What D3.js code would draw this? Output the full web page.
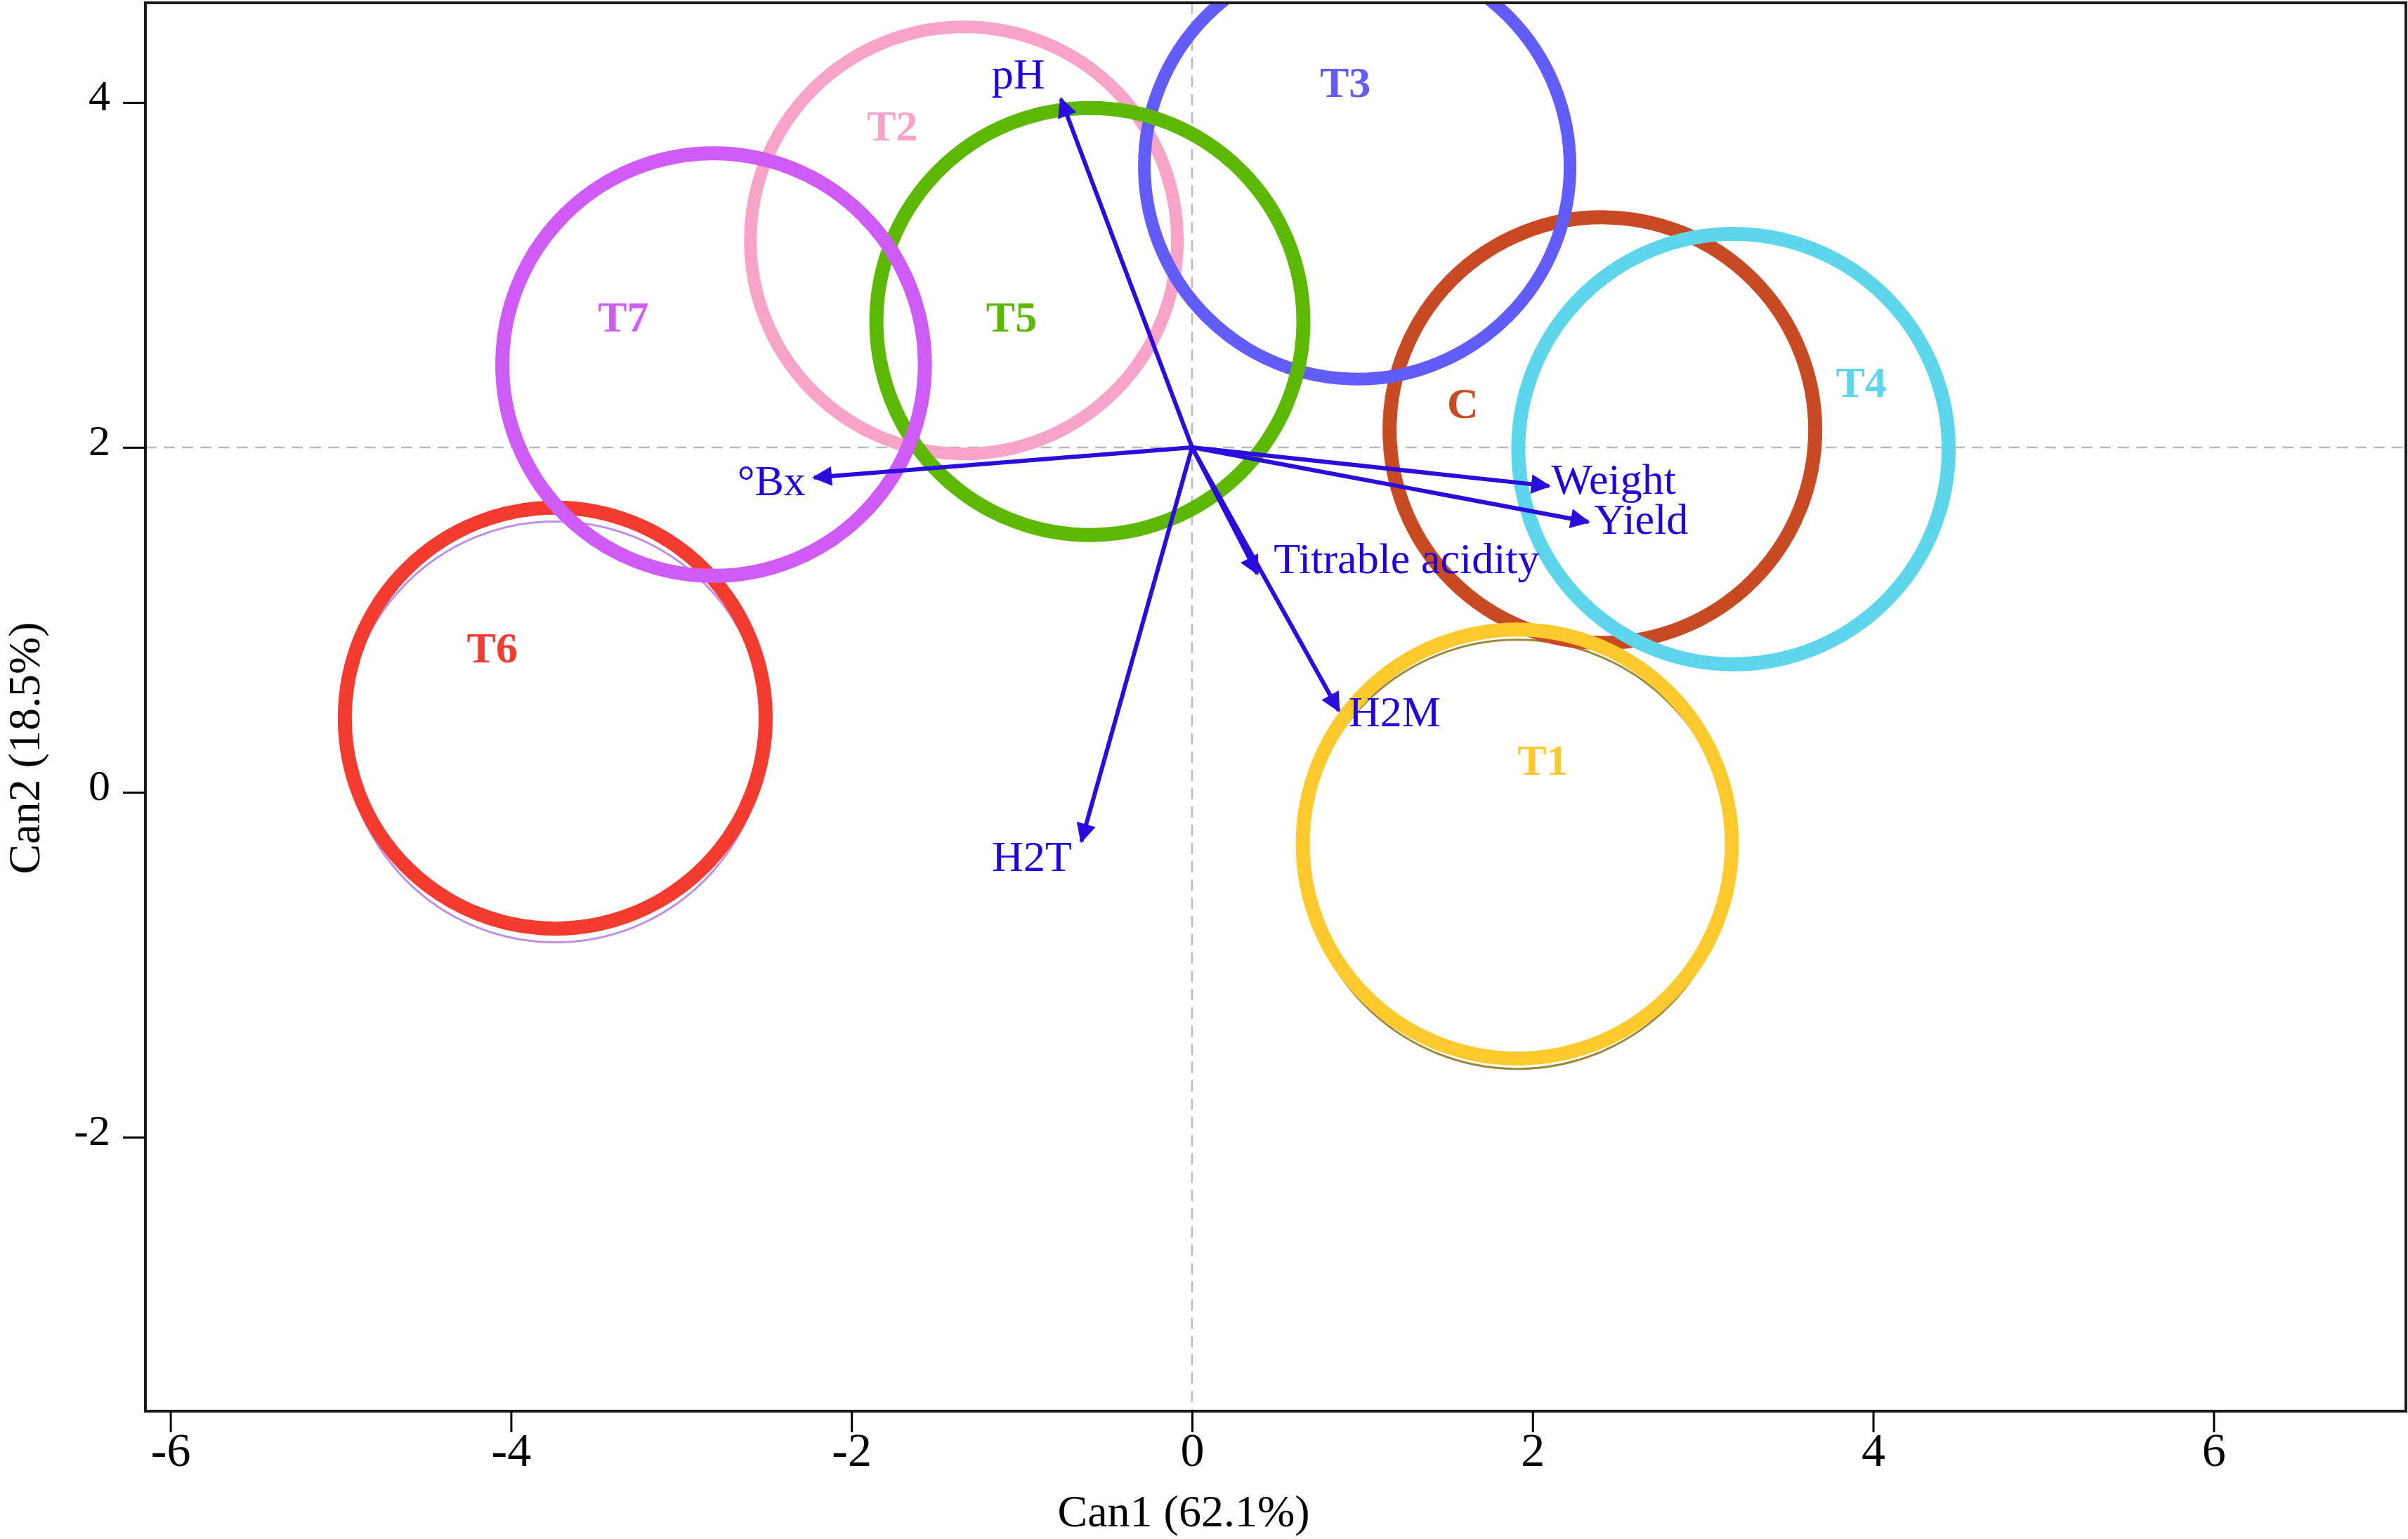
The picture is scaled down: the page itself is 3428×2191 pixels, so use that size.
<!DOCTYPE html>
<html>
<head>
<meta charset="utf-8">
<script src="https://cdn.jsdelivr.net/npm/d3@7"></script>
<style>
  body { margin: 0; background: #fff; }
  text { font-family: "Liberation Serif", "Times New Roman", serif; }
</style>
</head>
<body>
<svg id="biplot"></svg>
<script>
// group centroids and confidence circles (canonical scores)
var groups  = ["C", "T1", "T2", "T3", "T4", "T5", "T6", "T7"];
var groupX  = [2.41, 1.91, -1.34, 0.97, 3.18, -0.60, -3.74, -2.81];
var groupY  = [2.10, -0.30, 3.20, 3.63, 1.99, 2.73, 0.43, 2.48];
var groupR  = [1.25, 1.26, 1.254, 1.25, 1.264, 1.254, 1.236, 1.241];
var groupColors = ["#c84a22", "#fdc92c", "#f8a3c8", "#625cfa", "#5dd6ec", "#5cb800", "#f43b2f", "#d05cf7"];
var labelX  = [1.59, 2.06, -1.76, 0.90, 3.93, -1.06, -4.11, -3.34];
var labelY  = [2.26, 0.19, 3.87, 4.12, 2.38, 2.76, 0.84, 2.76];

// faint duplicate circles drawn beneath some groups
var shadowGroups = ["T6", "T7", "T1"];
var shadowShift  = [-0.08, -0.03, -0.06];
var shadowColors = ["#c08fe8", "#c07ab8", "#9c8a3c"];

// variable loadings
var origin = [0, 2];
var vars   = ["pH", "°Bx", "Weight", "Yield", "Titrable acidity", "H2M", "H2T"];
var tipX   = [-0.77, -2.22, 2.096, 2.327, 0.384, 0.862, -0.65];
var tipY   = [4.02, 1.825, 1.776, 1.568, 1.267, 0.473, -0.285];
var varLabelX = [-1.02, -2.47, 2.11, 2.36, 0.48, 0.92, -0.94];
var varLabelY = [4.17, 1.81, 1.82, 1.585, 1.36, 0.47, -0.37];
var varAnchor = ["middle", "middle", "start", "start", "start", "start", "middle"];

var xTicks = [-6, -4, -2, 0, 2, 4, 6];
var yTicks = [-2, 0, 2, 4];

var width = 3428, height = 2191;
var plotLeft = 207, plotRight = 3425, plotTop = 4, plotBottom = 2009;

var svg = d3.select("#biplot")
            .attr("width", width)
            .attr("height", height);

var x = d3.scaleLinear().domain([-6.147, 7.129]).range([plotLeft, plotRight]);
var y = d3.scaleLinear().domain([-3.589, 4.578]).range([plotBottom, plotTop]);

var defs = svg.append("defs");
defs.append("clipPath")
    .attr("id", "plot-clip")
  .append("rect")
    .attr("x", plotLeft).attr("y", plotTop)
    .attr("width", plotRight - plotLeft).attr("height", plotBottom - plotTop);

defs.append("marker")
    .attr("id", "head")
    .attr("viewBox", "0 0 10 10")
    .attr("refX", 9).attr("refY", 5)
    .attr("markerUnits", "userSpaceOnUse")
    .attr("markerWidth", 40).attr("markerHeight", 28)
    .attr("orient", "auto")
  .append("path")
    .attr("d", "M0,0 L10,5 L0,10 Z")
    .attr("fill", "#2a0ddc");

var plot = svg.append("g").attr("clip-path", "url(#plot-clip)");

// reference lines
plot.append("line")
    .attr("x1", plotLeft).attr("x2", plotRight)
    .attr("y1", y(2)).attr("y2", y(2))
    .attr("stroke", "#bbbbbb").attr("stroke-width", 2.5)
    .attr("stroke-dasharray", "16,10");
plot.append("line")
    .attr("x1", x(0)).attr("x2", x(0))
    .attr("y1", plotTop).attr("y2", plotBottom)
    .attr("stroke", "#bbbbbb").attr("stroke-width", 2.5)
    .attr("stroke-dasharray", "16,10");

// shadow circles
plot.selectAll(".shadow")
    .data(shadowGroups)
  .enter()
    .append("circle")
    .classed("shadow", true)
    .attr("cx", g => x(groupX[groups.indexOf(g)]))
    .attr("cy", (g, i) => y(groupY[groups.indexOf(g)] + shadowShift[i]))
    .attr("r", g => x(groupR[groups.indexOf(g)]) - x(0))
    .attr("fill", "none")
    .attr("stroke", (g, i) => shadowColors[i])
    .attr("stroke-width", 3);

// confidence circles
plot.selectAll(".ring")
    .data(groups)
  .enter()
    .append("circle")
    .classed("ring", true)
    .attr("cx", (g, i) => x(groupX[i]))
    .attr("cy", (g, i) => y(groupY[i]))
    .attr("r", (g, i) => x(groupR[i]) - x(0))
    .attr("fill", "none")
    .attr("stroke", (g, i) => groupColors[i])
    .attr("stroke-width", g => g === "T3" || g === "T2" ? 18 : 20);

// loading arrows
plot.selectAll(".arrow")
    .data(vars)
  .enter()
    .append("line")
    .classed("arrow", true)
    .attr("x1", x(origin[0])).attr("y1", y(origin[1]))
    .attr("x2", (v, i) => x(tipX[i]))
    .attr("y2", (v, i) => y(tipY[i]))
    .attr("stroke", "#2a0ddc")
    .attr("stroke-width", 6)
    .attr("marker-end", "url(#head)");

// group labels
plot.selectAll(".group-label")
    .data(groups)
  .enter()
    .append("text")
    .classed("group-label", true)
    .attr("x", (g, i) => x(labelX[i]))
    .attr("y", (g, i) => y(labelY[i]))
    .attr("dy", "0.35em")
    .attr("text-anchor", "middle")
    .attr("font-size", 62)
    .attr("font-weight", "bold")
    .attr("fill", (g, i) => groupColors[i])
    .text(g => g);

// variable labels
plot.selectAll(".var-label")
    .data(vars)
  .enter()
    .append("text")
    .classed("var-label", true)
    .attr("x", (v, i) => x(varLabelX[i]))
    .attr("y", (v, i) => y(varLabelY[i]))
    .attr("dy", "0.35em")
    .attr("text-anchor", (v, i) => varAnchor[i])
    .attr("font-size", 62)
    .attr("fill", "#2000dd")
    .text(v => v);

// frame
svg.append("rect")
    .attr("x", plotLeft).attr("y", plotTop)
    .attr("width", plotRight - plotLeft).attr("height", plotBottom - plotTop)
    .attr("fill", "none")
    .attr("stroke", "#1a1a1a")
    .attr("stroke-width", 4);

// axes
var minus = d => d < 0 ? "-" + Math.abs(d) : "" + d;

var xAxis = svg.append("g")
    .attr("transform", "translate(0," + plotBottom + ")")
    .call(d3.axisBottom(x).tickValues(xTicks).tickSize(30).tickPadding(0).tickFormat(minus));
var yAxis = svg.append("g")
    .attr("transform", "translate(" + plotLeft + ",0)")
    .call(d3.axisLeft(y).tickValues(yTicks).tickSize(32).tickPadding(18).tickFormat(minus));

[xAxis, yAxis].forEach(function(ax){
  ax.select(".domain").remove();
  ax.selectAll(".tick line").attr("stroke", "#000").attr("stroke-width", 3);
  ax.selectAll(".tick text").attr("fill", "#000");
});

xAxis.selectAll(".tick text")
    .attr("font-family", "Liberation Serif")
    .attr("font-size", 68);

yAxis.selectAll(".tick text")
    .attr("font-family", "Liberation Sans")
    .attr("font-size", 62)
    .attr("dy", "0.17em");

// axis titles
svg.append("text")
    .attr("x", 1685).attr("y", 2173)
    .attr("text-anchor", "middle")
    .attr("font-size", 64)
    .text("Can1 (62.1%)");

svg.append("text")
    .attr("transform", "translate(56," + 1065 + ") rotate(-90)")
    .attr("text-anchor", "middle")
    .attr("font-size", 64)
    .text("Can2 (18.5%)");
</script>
</body>
</html>
